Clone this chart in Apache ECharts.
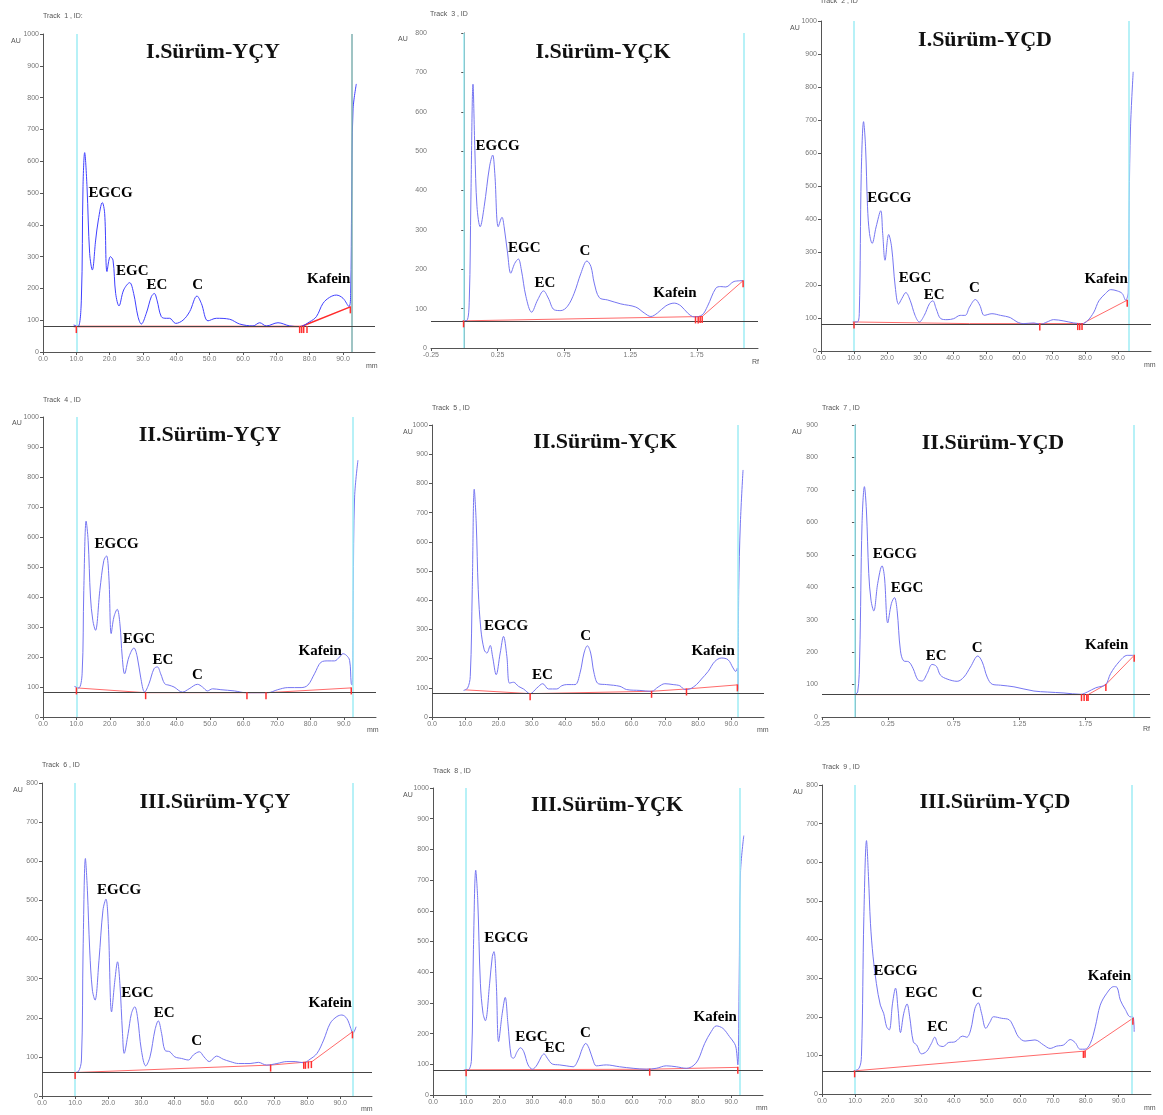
<!DOCTYPE html>
<html><head><meta charset="utf-8">
<script src="https://cdn.jsdelivr.net/npm/echarts@6/dist/echarts.min.js"></script>
<style>html,body{margin:0;padding:0;background:#fff}#c{width:1163px;height:1115px}</style>
</head><body><div id="c"></div>
<script>
// ---------- DATA ----------
const titles = ['I.Sürüm-YÇY','I.Sürüm-YÇK','I.Sürüm-YÇD','II.Sürüm-YÇY','II.Sürüm-YÇK','II.Sürüm-YÇD','III.Sürüm-YÇY','III.Sürüm-YÇK','III.Sürüm-YÇD'];
const trackLabels = ['Track  1 , ID:','Track  3 , ID','Track  2 , ID','Track  4 , ID','Track  5 , ID','Track  7 , ID','Track  6 , ID','Track  8 , ID','Track  9 , ID'];
const xUnits = ['mm','Rf','mm','mm','mm','Rf','mm','mm','mm'];
const yMaxes = [1000,800,1000,1000,1000,900,800,1000,800];
const xMins = [0,-0.25,0,0,0,-0.25,0,0,0];
const xMaxes = [99.6,2.21,100,99.6,99.8,2.24,99.6,99.6,99.8];
const xIntervals = [10,0.5,10,10,10,0.5,10,10,10];
const yInterval = 100;
const grayLevels = [80,69,81,81,80,69,60,82,60];
const cyanLines = [[10,92.5],[0,2.1],[10,93.3],[10,92.7],[92.0],[0,2.12],[10,93.7],[10,92.6],[10,94]];

const p1Curve = [[9.2,85],[10.5,80],[11.5,163],[12,520],[12.5,627],[13.2,520],[14,310],[14.8,258],[15.8,352],[16.6,415],[17.8,470],[18.5,436],[19.2,253],[20.2,300],[21,289],[21.8,184],[22.8,145],[24.2,195],[26,218],[27.2,184],[28.5,111],[29.5,88],[31,122],[32.5,174],[33.4,184],[34.2,163],[35.5,111],[37,106],[38,106],[39.8,90],[42,100],[44,127],[46.2,176],[47.5,153],[49.5,98],[52,106],[56,103],[59,88],[63,82],[65,92],[67,82],[70.5,92],[74,82],[77,80],[80,95],[82,111],[84,153],[86,172],[88,179],[90,169],[91.8,143],[92.3,184],[92.6,478],[93,761],[94,843]];
const p1Base = [[9.2,80],[77.5,80],[92.2,142]];
const p1Ticks = [[10,80],[77,80],[77.6,80],[78.2,80],[79.2,80],[92.2,142]];
const p1Labels = [[20.3,501,'EGCG'],[26.8,253,'EGC'],[34.2,211,'EC'],[46.4,211,'C'],[85.7,229,'Kafein']];

const p2Curve = [[-0.012,69],[0.02,70],[0.038,122],[0.05,376],[0.066,670],[0.08,502],[0.096,359],[0.12,308],[0.15,359],[0.19,460],[0.214,490],[0.23,443],[0.256,308],[0.284,332],[0.30,308],[0.326,241],[0.35,190],[0.38,215],[0.407,226],[0.43,198],[0.464,131],[0.507,91],[0.552,122],[0.597,145],[0.632,127],[0.677,97],[0.727,95],[0.777,106],[0.827,139],[0.878,190],[0.923,221],[0.953,207],[0.978,165],[1.016,128],[1.078,122],[1.178,112],[1.29,104],[1.354,89],[1.404,80],[1.454,89],[1.517,107],[1.58,114],[1.63,107],[1.68,89],[1.73,79],[1.79,84],[1.83,106],[1.893,152],[1.93,156],[1.968,155],[2.03,169],[2.098,171]];
const p2Base = [[-0.005,69],[1.79,80],[2.098,171]];
const p2Ticks = [[-0.005,69],[1.74,79],[1.76,79],[1.775,80],[1.79,80],[2.098,171]];
const p2Labels = [[0.251,513,'EGCG'],[0.452,253,'EGC'],[0.607,166,'EC'],[0.908,247,'C'],[1.585,139,'Kafein']];

const p3Curve = [[9.6,88],[11.0,88],[11.6,113],[12.2,538],[12.9,695],[13.5,619],[14.1,437],[14.7,356],[15.5,326],[16.7,376],[18.1,425],[18.7,356],[19.4,275],[20.5,353],[21.4,315],[22.5,194],[23.5,142],[24.5,159],[25.7,177],[27.0,154],[28.5,108],[29.8,88],[31.3,108],[32.9,144],[33.9,152],[34.9,128],[36.3,98],[38.2,95],[40.2,98],[42.2,108],[43.7,108],[45.0,133],[46.8,156],[48.1,139],[49.5,108],[51.8,113],[54.4,108],[57.4,101],[59.4,88],[61.4,83],[64.5,85],[66.5,81],[68.5,88],[70.5,95],[73.6,91],[76.6,85],[79.1,83],[80.7,91],[82.7,118],[84.2,152],[86.2,174],[87.8,186],[89.8,182],[91.3,174],[92.3,154],[93.1,176],[93.4,457],[93.8,679],[94.6,846]];
const p3Base = [[10,88],[45,83],[79.5,83],[80.5,90],[92.8,154]];
const p3Ticks = [[10,88],[66.3,82],[77.8,83],[78.4,83],[79.1,83],[92.8,154]];
const p3Labels = [[20.7,462,'EGCG'],[28.5,221,'EGC'],[34.3,170,'EC'],[46.5,192,'C'],[86.4,217,'Kafein']];

const p4Curve = [[9.4,102],[10.7,97],[11.7,144],[12.2,422],[12.9,653],[13.5,589],[14.2,400],[14.9,322],[15.7,289],[17.0,422],[18.2,522],[19.0,537],[19.7,467],[20.4,278],[21.2,333],[22.2,359],[23.0,311],[23.7,200],[24.4,144],[25.7,200],[27.2,230],[28.2,200],[29.2,133],[30.4,83],[31.7,111],[33.2,161],[34.2,167],[35.2,144],[36.4,111],[37.7,106],[39.2,100],[41.7,83],[43.7,94],[46.2,109],[47.7,100],[49.2,87],[50.7,94],[53.2,91],[57.2,87],[60.7,81],[64.2,81],[67.2,81],[70.2,91],[73.2,98],[77.2,98],[79.2,106],[81.2,144],[83.2,183],[85.2,187],[87.2,187],[88.7,200],[89.7,211],[90.7,206],[91.7,189],[92.2,111],[92.5,106],[92.8,422],[93.2,733],[94.2,856]];
const p4Base = [[10,97],[30.7,81],[67,81],[92.2,97]];
const p4Ticks = [[10,97],[30.7,81],[61,81],[66.7,81],[92.2,97]];
const p4Labels = [[22,576,'EGCG'],[28.7,258,'EGC'],[35.9,189,'EC'],[46.2,139,'C'],[82.9,220,'Kafein']];

const p5Curve = [[9.5,91],[10.7,99],[11.5,139],[12.1,436],[12.7,780],[13.3,664],[13.9,436],[14.7,299],[15.7,230],[16.5,219],[17.5,245],[18.2,208],[19.3,145],[20.5,219],[21.5,276],[22.5,208],[23.3,116],[24.5,119],[26.0,105],[27.5,96],[29.5,80],[31.5,99],[33.3,114],[35.0,96],[37.5,96],[39.0,107],[40.5,111],[43.0,111],[44.5,151],[45.7,219],[46.7,244],[47.7,219],[48.7,151],[50.0,114],[52.5,111],[56.5,105],[58.5,94],[62.5,91],[66.0,88],[68.0,103],[70.0,114],[72.5,111],[74.5,107],[76.0,94],[77.5,96],[79.5,111],[81.0,130],[83.0,156],[85.0,190],[87.0,202],[89.0,196],[90.5,168],[91.3,156],[91.8,168],[92.0,94],[92.2,436],[92.7,664],[93.5,846]];
const p5Base = [[10,93],[29.5,80],[66,88],[76.5,96],[91.8,110]];
const p5Ticks = [[29.5,80],[66,88],[76.5,96],[91.8,110]];
const p5Labels = [[22.3,310,'EGCG'],[33.2,145,'EC'],[46.2,278,'C'],[84.5,225,'Kafein']];

const p6Curve = [[-0.004,69],[0.021,77],[0.036,185],[0.054,597],[0.072,710],[0.087,638],[0.105,442],[0.122,360],[0.143,327],[0.173,412],[0.206,466],[0.224,432],[0.249,290],[0.277,350],[0.30,368],[0.32,329],[0.345,206],[0.37,173],[0.409,170],[0.442,149],[0.477,115],[0.51,111],[0.548,134],[0.586,162],[0.619,156],[0.649,129],[0.70,117],[0.776,110],[0.827,123],[0.877,154],[0.933,188],[0.966,170],[1.004,123],[1.042,101],[1.105,98],[1.207,93],[1.359,80],[1.46,77],[1.587,74],[1.714,70],[1.764,77],[1.828,90],[1.903,100],[1.941,134],[2.005,170],[2.068,190],[2.114,190]];
const p6Base = [[0,69],[1.77,69],[1.905,100],[2.12,190]];
const p6Ticks = [[1.72,69],[1.74,69],[1.76,69],[1.77,69],[1.905,100],[2.12,190]];
const p6Labels = [[0.302,501,'EGCG'],[0.396,398,'EGC'],[0.617,188,'EC'],[0.928,213,'C'],[1.911,223,'Kafein']];

const p7Curve = [[9.6,60],[10.9,62],[11.9,92],[12.4,373],[13.1,607],[13.7,526],[14.4,373],[15.2,271],[16.0,245],[17.2,347],[18.4,475],[19.3,503],[20.0,441],[21.0,215],[22.0,296],[22.8,343],[23.5,288],[24.3,160],[24.8,109],[26.0,160],[27.0,211],[28.0,228],[28.8,203],[30.0,117],[31.3,77],[32.6,100],[34.1,169],[35.1,192],[36.1,160],[37.1,117],[38.6,113],[40.1,100],[42.1,96],[44.2,92],[45.7,105],[47.5,113],[48.9,100],[50.5,88],[52.7,102],[54.7,94],[56.8,88],[59.3,83],[62.8,83],[65.3,86],[67.8,79],[70.9,83],[73.9,88],[76.4,88],[78.9,85],[80.9,94],[83.0,109],[85.0,143],[87.0,186],[89.0,203],[90.5,207],[92.0,198],[93.2,173],[93.8,160],[94.8,177]];
const p7Base = [[10,60],[69,79],[81.5,88],[93.7,164]];
const p7Ticks = [[10,60],[69,79],[79,86],[79.5,86],[80.4,87],[81.3,88],[93.7,164]];
const p7Labels = [[23.3,526,'EGCG'],[28.8,264,'EGC'],[36.9,213,'EC'],[46.7,141,'C'],[87,237,'Kafein']];

const p8Curve = [[9.3,82],[10.6,82],[11.6,114],[12.2,473],[12.9,732],[13.5,636],[14.3,364],[15.1,266],[15.8,242],[17.1,364],[17.9,451],[18.4,467],[19.1,364],[19.8,174],[20.9,266],[21.8,318],[22.6,234],[23.6,125],[24.3,120],[25.4,141],[26.4,154],[27.4,141],[28.7,98],[30.0,84],[31.4,98],[32.7,125],[33.5,134],[34.5,120],[36.0,101],[38.2,98],[40.2,95],[42.3,92],[43.8,114],[45.1,152],[46.1,168],[47.1,152],[48.3,114],[49.3,95],[52.3,98],[56.3,92],[60.4,87],[64.4,84],[67.4,87],[70.4,95],[73.4,92],[76.5,87],[78.5,95],[80.0,114],[82.0,168],[84.0,207],[85.5,225],[87.5,217],[89.5,190],[91.0,168],[91.5,152],[92.0,98],[92.4,364],[92.8,723],[93.8,845]];
const p8Base = [[10,82],[65.4,84],[92,90]];
const p8Ticks = [[10,82],[65.4,84],[92,90]];
const p8Labels = [[22.1,510,'EGCG'],[29.7,190,'EGC'],[36.8,154,'EC'],[46,201,'C'],[85.2,253,'Kafein']];

const p9Curve = [[9.6,60],[11.2,66],[11.96,97],[12.7,459],[13.5,656],[14.1,563],[14.7,442],[15.5,355],[16.5,286],[17.7,230],[18.7,209],[19.6,174],[20.4,166],[21.4,235],[22.3,274],[23.1,217],[23.8,159],[24.8,209],[25.8,233],[26.6,200],[27.7,135],[28.7,127],[30.2,104],[31.7,110],[33.2,131],[34.2,147],[35.3,127],[36.8,123],[38.3,133],[40.3,135],[42.7,150],[43.9,147],[45.1,166],[46.4,222],[47.4,236],[48.4,209],[49.7,170],[51.0,187],[52.0,200],[54.5,196],[56.8,192],[58.1,174],[59.6,148],[61.6,137],[64.6,140],[67.2,127],[69.2,118],[71.2,124],[73.3,127],[75.3,141],[76.8,133],[78.3,116],[79.8,116],[81.4,131],[82.9,174],[84.4,230],[86.4,261],[88.5,278],[89.5,276],[90.5,243],[92.0,219],[93.5,200],[94.3,200],[94.7,161]];
const p9Base = [[9.9,60],[79.6,111],[94.3,196]];
const p9Ticks = [[9.9,60],[79.3,110],[79.8,111],[94.3,196]];
const p9Labels = [[22.3,317,'EGCG'],[30.2,262,'EGC'],[35.1,172,'EC'],[47.1,261,'C'],[87.2,305,'Kafein']];

const curves = [p1Curve,p2Curve,p3Curve,p4Curve,p5Curve,p6Curve,p7Curve,p8Curve,p9Curve];
const bases = [p1Base,p2Base,p3Base,p4Base,p5Base,p6Base,p7Base,p8Base,p9Base];
const ticksRed = [p1Ticks,p2Ticks,p3Ticks,p4Ticks,p5Ticks,p6Ticks,p7Ticks,p8Ticks,p9Ticks];
const peakLabels = [p1Labels,p2Labels,p3Labels,p4Labels,p5Labels,p6Labels,p7Labels,p8Labels,p9Labels];

// ---------- LAYOUT ----------
const layout = [
  {l:43,t:34,w:332,h:318, title:[213,52], track:[43,16], au:[11,41], unit:[366,366]},
  {l:431,t:33,w:327,h:315, title:[603,52], track:[430,14], au:[398,39], unit:[752,362]},
  {l:821,t:21,w:330,h:330, title:[985,40], track:[820,1], au:[790,28], unit:[1144,365]},
  {l:43,t:417,w:333,h:300, title:[210,435], track:[43,400], au:[12,423], unit:[367,730]},
  {l:432,t:425,w:332,h:292, title:[605,442], track:[432,408], au:[403,432], unit:[757,730]},
  {l:822,t:425,w:328,h:292, title:[993,443], track:[822,408], au:[792,432], unit:[1143,729]},
  {l:42,t:783,w:330,h:313, title:[215,802], track:[42,765], au:[13,790], unit:[361,1109]},
  {l:433,t:788,w:330,h:307, title:[607,805], track:[433,771], au:[403,795], unit:[756,1108]},
  {l:822,t:785,w:329,h:309, title:[995,802], track:[822,767], au:[793,792], unit:[1144,1108]}
];
const blue = ['#4040ff','#7676f2','#7676f2','#7676f2','#7676f2','#7676f2','#7676f2','#7676f2','#7676f2'];

const grid=[], xAxis=[], yAxis=[], series=[], graphic=[];
const serif = '"Liberation Serif","Times New Roman",serif';
layout.forEach((L,i)=>{
  grid.push({left:L.l, top:L.t, width:L.w, height:L.h});
  const isRf = xUnits[i]==='Rf';
  xAxis.push({gridIndex:i, type:'value', min:xMins[i], max:xMaxes[i], interval:xIntervals[i],
    splitLine:{show:false},
    axisLine:{onZero:false, lineStyle:{color:'#555',width:1}},
    axisTick:{length:3, lineStyle:{color:'#555'}},
    axisLabel:{showMaxLabel:false, fontSize:7, color:'#777', margin:4, fontFamily:'Arial',
      formatter:v=> isRf ? v.toFixed(2) : v.toFixed(1)}
  });
  yAxis.push({gridIndex:i, type:'value', min:0, max:yMaxes[i], interval:yInterval,
    splitLine:{show:false},
    axisLine:{show:true, lineStyle:{color:'#555',width:1}},
    axisTick:{show:true,length:3, lineStyle:{color:'#555'}},
    axisLabel:{fontSize:7, color:'#777', margin:4, fontFamily:'Arial', formatter:v=>String(v)}
  });
  series.push({type:'line', xAxisIndex:i, yAxisIndex:i, data:bases[i], symbol:'none', z:3,
    lineStyle:{color: i===0?'#ff2a2a':'#ff6b6b', width: i===0?1.5:1}});
  series.push({type:'line', xAxisIndex:i, yAxisIndex:i, data:curves[i], symbol:'none', smooth:0.35, z:4,
    lineStyle:{color:blue[i], width:1},
    markLine:{silent:true, symbol:'none', label:{show:false}, animation:false,
      data:[
        ...cyanLines[i].map((v,k)=>({xAxis:v, lineStyle:{color:(i===0&&k===1)?'#7fb0b0':'#9fecf4', width:1.5, type:'solid'}})),
        {yAxis:grayLevels[i], lineStyle:{color:'#444', width:1, type:'solid'}}
      ]}
  });
  series.push({type:'scatter', xAxisIndex:i, yAxisIndex:i, data:ticksRed[i], symbol:'rect',
    symbolSize:[1.5,7], symbolOffset:[0,3], itemStyle:{color:'#ff3030', opacity:1}, z:5});
  series.push({type:'scatter', xAxisIndex:i, yAxisIndex:i, data:peakLabels[i], symbolSize:0, z:6,
    itemStyle:{opacity:1},
    label:{show:true, position:'inside', formatter:p=>p.data[2], fontFamily:serif, fontWeight:'bold', fontSize:15, color:'#000', opacity:1}});
  graphic.push({type:'text', x:L.title[0], y:L.title[1], style:{text:titles[i], fontFamily:serif, fontWeight:'bold', fontSize:22, fill:'#111', align:'center', verticalAlign:'middle'}});
  graphic.push({type:'text', x:L.track[0], y:L.track[1], style:{text:trackLabels[i], fontFamily:'Arial', fontSize:7, fill:'#555', align:'left', verticalAlign:'middle'}});
  graphic.push({type:'text', x:L.au[0], y:L.au[1], style:{text:'AU', fontFamily:'Arial', fontSize:7, fill:'#555', align:'left', verticalAlign:'middle'}});
  graphic.push({type:'text', x:L.unit[0], y:L.unit[1], style:{text:xUnits[i], fontFamily:'Arial', fontSize:7, fill:'#555', align:'left', verticalAlign:'middle'}});
});

const chart = echarts.init(document.getElementById('c'));
chart.setOption({animation:false, backgroundColor:'#fff', grid, xAxis, yAxis, series, graphic});
</script></body></html>
